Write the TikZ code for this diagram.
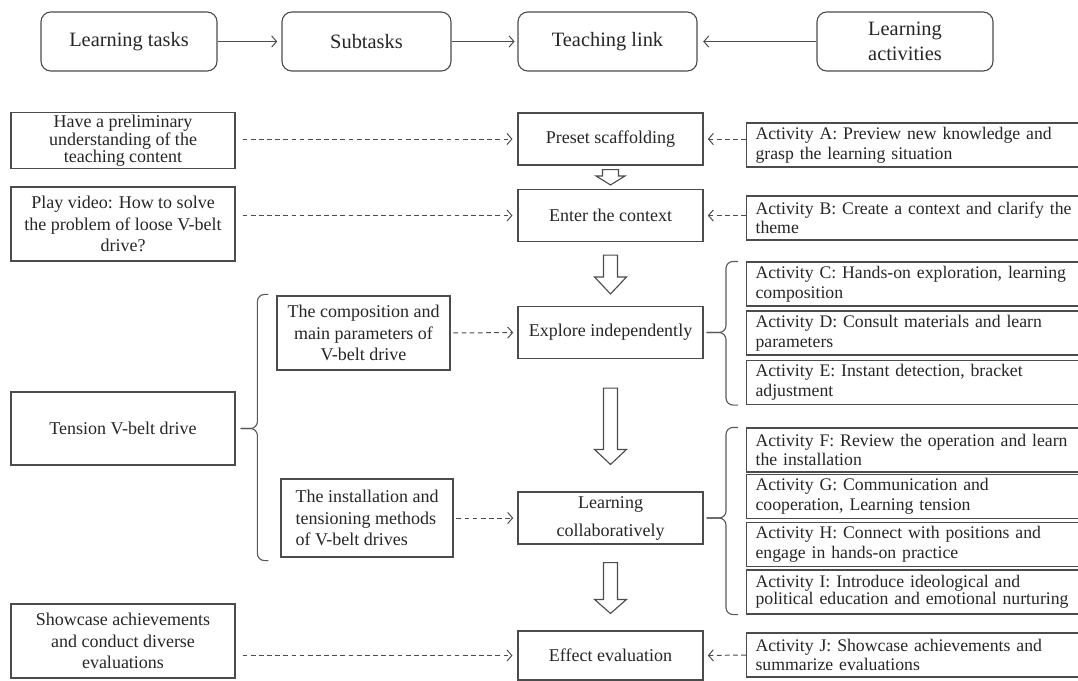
\documentclass[tikz,border=0pt]{standalone}
\usepackage{fontspec}
\setmainfont{Liberation Serif}
\usetikzlibrary{arrows.meta,calc,positioning}

\tikzset{
  box/.style={draw=black!70, line width=0.8pt, align=center, text=black!85, inner sep=2pt},
  headbox/.style={box, rounded corners=7pt, minimum height=1.475cm, font=\fontsize{14.5}{17.5}\selectfont},
  taskbox/.style={box, minimum width=5.6cm, font=\fontsize{12.8}{15.3}\selectfont},
  subbox/.style={box, minimum height=1.85cm, font=\fontsize{12.8}{15.3}\selectfont},
  linkbox/.style={box, minimum width=4.625cm, minimum height=1.3cm, font=\fontsize{12.8}{15.3}\selectfont},
  actbox/.style={box, anchor=west, align=left, text width=8.4cm, inner xsep=0.225cm, minimum height=1.1cm, font=\fontsize{12.6}{13.9}\selectfont},
  flow/.style={draw=black!70, line width=0.7pt, -{Straight Barb[length=3.5pt,width=8pt]}},
  dashflow/.style={flow, dash pattern=on 3.4pt off 2.4pt},
  hollow/.style={draw=black!70, line width=0.8pt, fill=white},
  curly/.style={draw=black!65, line width=0.8pt, rounded corners=5pt}
}

% hollow down arrow between two stacked nodes
\newcommand{\hollowdown}[7]{%
  \draw[hollow] ($(#1.south)+(-#6,#3)$) -- ($(#1.south)+(#6,#3)$)
    -- ($(#2.north)+(#6,-#4-#5)$) -- ($(#2.north)+(#7,-#4-#5)$)
    -- ($(#2.north)+(0,-#4)$) -- ($(#2.north)+(-#7,-#4-#5)$)
    -- ($(#2.north)+(-#6,-#4-#5)$) -- cycle;}

\begin{document}
\begin{tikzpicture}[x=0.025cm, y=-0.025cm]
\useasboundingbox (0,0) rectangle (1078,680);
\clip (0,0) rectangle (1078,680);

% header row
\node[headbox, minimum width=4.4cm] (tasks) at (129,41.5) {Learning tasks};
\node[headbox, minimum width=4.225cm] (subtasks) at (366.5,41.5) {Subtasks};
\node[headbox, minimum width=4.475cm] (link) at (607.5,41.5) {Teaching link};
\node[headbox, minimum width=4.4cm] (acts) at (905,41.5) {Learning\\activities};
\draw[flow, shorten >=3pt] (tasks) -- (subtasks);
\draw[flow, shorten >=2pt] (subtasks) -- (link);
\draw[flow, shorten >=4pt] (acts) -- (link);

% learning tasks
\node[taskbox, minimum height=1.375cm, font=\fontsize{12.8}{11.7}\selectfont] (prelim) at (123,140.5)
  {Have a preliminary\\understanding of the\\teaching content};
\node[taskbox, minimum height=1.85cm] (video) at (123,224)
  {Play video: How to solve\\the problem of loose V-belt\\drive?};
\node[taskbox, minimum height=1.825cm] (tension) at (123,428.5) {Tension V-belt drive};
\node[taskbox, minimum height=1.85cm] (showcase) at (123,641)
  {Showcase achievements\\and conduct diverse\\evaluations};

% subtasks
\node[subbox, minimum width=4.325cm] (comp) at (363.5,333)
  {The composition and\\main parameters of\\V-belt drive};
\node[subbox, minimum width=4.3cm, minimum height=1.95cm, align=left] (inst) at (367,518)
  {The installation and\\tensioning methods\\of V-belt drives};
\coordinate (lb) at ($(comp.west)+(-19,0)$);
\coordinate (lbtop) at ($(comp.north west)+(-8,-1)$);
\coordinate (lbbot) at ($(inst.south west)+(-12,3)$);
\draw[curly] (lbtop) -- (lb |- lbtop) -- (lb |- tension.east) -- ($(tension.east)+(5,0)$);
\draw[curly] (lbbot) -- (lb |- lbbot) -- (lb |- tension.east) -- ($(tension.east)+(5,0)$);

% teaching links
\node[linkbox] (preset) at (610.5,139) {Preset scaffolding};
\node[linkbox] (context) at (610.5,215.5) {Enter the context};
\node[linkbox] (explore) at (610.5,332.5) {Explore independently};
\node[linkbox, font=\fontsize{12.8}{19.9}\selectfont] (collab) at (610.5,518) {Learning\\collaboratively};
\node[linkbox, minimum height=1.225cm] (evaluate) at (610.5,655.5) {Effect evaluation};

\hollowdown{preset}{context}{4}{4}{9}{8}{14.5}
\hollowdown{context}{explore}{13}{12}{17}{7}{16}
\hollowdown{explore}{collab}{29}{27}{15}{7}{16}
\hollowdown{collab}{evaluate}{18}{17}{14}{7}{16}

% learning activities
\node[actbox] (actA) at (746,145) {Activity A: Preview new knowledge and\\grasp the learning situation};
\node[actbox] (actB) at (746,218) {Activity B: Create a context and clarify the\\theme};
\node[actbox] (actC) at (746,284) {Activity C: Hands-on exploration, learning\\composition};
\node[actbox] (actD) at (746,333) {Activity D: Consult materials and learn\\parameters};
\node[actbox] (actE) at (746,382.5) {Activity E: Instant detection, bracket\\adjustment};
\node[actbox] (actF) at (746,450) {Activity F: Review the operation and learn\\the installation};
\node[actbox] (actG) at (746,496.5) {Activity G: Communication and\\cooperation, Learning tension};
\node[actbox] (actH) at (746,544.5) {Activity H: Connect with positions and\\engage in hands-on practice};
\node[actbox, font=\fontsize{12.6}{12}\selectfont] (actI) at (746,592)
  {Activity I: Introduce ideological and\\political education and emotional nurturing};
\node[actbox] (actJ) at (746,655) {Activity J: Showcase achievements and\\summarize evaluations};

% braces
\coordinate (rb) at ($(actC.west)+(-20,0)$);
\draw[curly] ($(actC.north west)+(-8,0)$) -- (rb |- actC.north) -- (rb |- explore.east) -- ($(explore.east)+(3,0)$);
\draw[curly] ($(actE.south west)+(-8,0)$) -- (rb |- actE.south) -- (rb |- explore.east) -- ($(explore.east)+(3,0)$);
\draw[curly] ($(actF.north west)+(-8,0)$) -- (rb |- actF.north) -- (rb |- collab.east) -- ($(collab.east)+(3,0)$);
\draw[curly] ($(actI.south west)+(-8,0)$) -- (rb |- actI.south) -- (rb |- collab.east) -- ($(collab.east)+(3,0)$);

% dashed links
\draw[dashflow, shorten <=5pt, shorten >=3.5pt] (prelim.east |- preset.west) -- (preset.west);
\draw[dashflow, shorten <=5pt, shorten >=3.5pt] (video.east |- context.west) -- (context.west);
\draw[dashflow, shorten <=2pt, shorten >=3pt] (comp.east) -- (explore.west);
\draw[dashflow, shorten <=2pt, shorten >=3pt] (inst.east) -- (collab.west);
\draw[dashflow, shorten <=5pt, shorten >=3.5pt] (showcase.east |- evaluate.west) -- (evaluate.west);
\draw[dashflow, shorten >=3pt] (actA.west |- preset.east) -- (preset.east);
\draw[dashflow, shorten >=3pt] (actB.west |- context.east) -- (context.east);
\draw[dashflow, shorten >=3pt] (actJ.west) -- (evaluate.east);
\end{tikzpicture}
\end{document}
